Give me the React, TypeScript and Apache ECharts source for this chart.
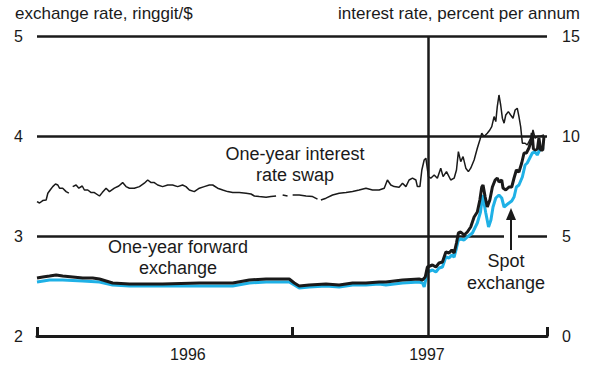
import React, { useEffect, useRef } from "react";
import * as echarts from "echarts";

// x values: months since January 1996
const swapMonths = [
  0.0, 0.12, 0.27, 0.43, 0.51, 0.62, 0.74, 0.87, 0.98, 1.06, 1.21, 1.37, 1.5, 1.59, 1.68, 1.84, 1.97, 2.13, 2.23, 2.39,
  2.55, 2.7, 2.94, 3.07, 3.25, 3.41, 3.64, 3.85, 4.03, 4.19, 4.35, 4.58, 4.82, 5.05, 5.21, 5.37, 5.52, 5.68, 5.91, 6.15,
  6.38, 6.62, 6.85, 7.01, 7.17, 7.4, 7.64, 7.87, 8.11, 8.27, 8.5, 8.74, 8.97, 9.21, 9.52, 9.84, 10.07, 10.23, 10.46, 10.78,
  11.01, 11.25, 11.4, 11.56, 11.79, 11.9, 12.03, 12.34, 12.66, 12.97, 13.2, 13.28, 13.36, 13.6, 13.91, 14.22, 14.54, 14.85,
  15.16, 15.48, 15.79, 16.1, 16.34, 16.49, 16.65, 16.81, 17.04, 17.2, 17.36, 17.51, 17.67, 17.83, 17.9, 18.02, 18.11,
  18.22, 18.3, 18.42, 18.53, 18.69, 18.84, 19.0, 19.11, 19.27, 19.47, 19.63, 19.74, 19.83, 19.94, 20.05, 20.18, 20.3,
  20.41, 20.57, 20.72, 20.84, 20.93, 21.04, 21.19, 21.31, 21.4, 21.51, 21.59, 21.66, 21.74, 21.82, 21.9, 21.98, 22.06,
  22.18, 22.29, 22.4, 22.5, 22.6, 22.68, 22.76, 22.84, 22.97, 23.07, 23.19, 23.28, 23.34, 23.44, 23.54, 23.7, 23.86,
];
const swapRate: (number | null)[] = [
  6.72, 6.65, 6.77, 6.8, 7.14, 7.3, 7.47, 7.6, 7.55, 7.39, 7.39, 7.22, 7.14, null, 7.47, 7.55, 7.39, 7.5, 7.3, 7.3,
  7.17, 7.17, 7.0, 7.17, 7.39, 7.22, 7.39, 7.5, 7.67, 7.47, 7.39, 7.39, 7.47, 7.64, 7.8, 7.67, 7.67, 7.55, 7.47, 7.55,
  7.55, 7.47, 7.55, 7.47, 7.3, 7.22, 7.39, 7.47, 7.55, 7.55, 7.39, 7.3, 7.22, 7.17, 7.17, 7.14, 7.1, 7.0, 6.97, 6.94,
  6.97, 7.0, null, 7.05, 7.0, null, 7.05, 7.05, 7.0, 6.97, 6.84, null, 6.8, 6.89, 7.05, 7.14, 7.17, 7.22,
  7.3, 7.39, 7.3, 7.3, 7.39, 7.8, 7.55, 7.47, 7.44, 7.64, 7.47, 7.8, 7.89, 7.8, 7.47, 7.47, 8.3,
  8.8, 8.89, 7.97, 7.89, 8.05, 7.89, 8.39, 7.97, 8.22, 7.8, 7.89, 8.3, 9.22, 8.72, 8.97, 8.39, 8.22,
  8.39, 8.8, 9.39, 9.8, 10.14, 9.97, 10.14, 10.3, 10.47, 10.97, 10.72, 11.47, 12.05, 11.55, 10.89, 10.64, 11.05,
  11.22, 11.05, 10.89, 11.3, 11.39, 10.97, 10.47, 9.64, 9.64, 9.55, 9.8, 9.97, 10.3, 9.89, 9.97, 10.0, 10.05,
];

const forwardMonths = [
  0.0, 0.27, 0.59, 0.9, 1.21, 1.68, 2.15, 2.62, 2.94, 3.25, 3.56, 4.35, 5.91, 7.64, 9.21, 9.99, 10.78, 11.87, 12.11,
  12.34, 12.81, 13.6, 14.22, 14.85, 15.48, 16.1, 16.42, 17.2, 17.98, 18.14, 18.27, 18.37, 18.61, 18.77, 18.92, 19.08,
  19.24, 19.39, 19.52, 19.63, 19.74, 19.83, 19.94, 20.1, 20.25, 20.41, 20.57, 20.72, 20.84, 20.93, 20.99, 21.09, 21.19,
  21.31, 21.43, 21.56, 21.66, 21.74, 21.87, 21.93, 22.06, 22.21, 22.34, 22.45, 22.56, 22.68, 22.81, 22.92, 23.03,
  23.15, 23.25, 23.3, 23.36, 23.45, 23.55, 23.62, 23.7, 23.8, 23.86,
];
const forwardRate = [
  2.58, 2.59, 2.6, 2.61, 2.6, 2.59, 2.58, 2.58, 2.57, 2.55, 2.53, 2.52, 2.52, 2.53, 2.53, 2.56, 2.57, 2.57, 2.53,
  2.5, 2.51, 2.52, 2.51, 2.53, 2.53, 2.54, 2.54, 2.56, 2.57, 2.56, 2.59, 2.69, 2.71, 2.69, 2.73, 2.74,
  2.84, 2.83, 2.86, 2.83, 2.93, 3.03, 3.04, 3.01, 3.04, 3.09, 3.19, 3.24, 3.36, 3.49, 3.51, 3.39, 3.29,
  3.36, 3.49, 3.56, 3.58, 3.54, 3.56, 3.48, 3.46, 3.49, 3.49, 3.58, 3.66, 3.64, 3.73, 3.83, 3.83,
  3.88, 3.95, 4.03, 3.87, 3.86, 3.87, 3.98, 3.86, 3.86, 4.0,
];

const spotMonths = [
  0.0, 0.59, 1.21, 2.15, 2.94, 3.56, 4.35, 5.91, 7.64, 9.21, 9.99, 10.78, 11.87, 12.11, 12.34, 12.81, 13.6, 14.22,
  14.85, 15.48, 16.1, 16.42, 17.2, 17.98, 18.14, 18.22, 18.37, 18.61, 18.77, 18.92, 19.08, 19.24, 19.39, 19.52, 19.63,
  19.74, 19.83, 19.94, 20.1, 20.25, 20.49, 20.72, 20.87, 20.97, 21.12, 21.25, 21.36, 21.46, 21.59, 21.74, 21.87, 21.98,
  22.09, 22.21, 22.34, 22.45, 22.56, 22.68, 22.84, 22.97, 23.07, 23.19, 23.31, 23.44, 23.54, 23.7, 23.86,
];
const spotRate = [
  2.54, 2.56, 2.56, 2.55, 2.54, 2.51, 2.5, 2.5, 2.5, 2.5, 2.53, 2.54, 2.54, 2.51, 2.48, 2.49, 2.5, 2.49,
  2.51, 2.51, 2.52, 2.51, 2.53, 2.54, 2.53, 2.49, 2.64, 2.66, 2.64, 2.68, 2.69, 2.79, 2.78, 2.81, 2.79,
  2.88, 2.96, 2.97, 2.96, 2.99, 3.03, 3.13, 3.24, 3.41, 3.23, 3.09, 3.16, 3.29, 3.38, 3.41, 3.38, 3.29,
  3.31, 3.33, 3.35, 3.39, 3.49, 3.51, 3.59, 3.71, 3.73, 3.78, 3.83, 3.84, 3.81, 3.88, 3.89,
];

const xTickMonths = [0, 12, 24];
const yearLabelMonths = [7.1, 18.35];
const yearLabels = ["1996", "1997"];
const floatMonth = 18.39;

const FONT = '"Liberation Sans", Arial, Helvetica, sans-serif';
const INK = "#1a1a1a";
const CYAN = "#1fb1e6";

const zip = (xs: number[], ys: (number | null)[]) => xs.map((x, i) => [x, ys[i]]);

export default function App() {
  const ref = useRef<HTMLDivElement>(null);
  useEffect(() => {
    const chart = echarts.init(ref.current!, null, { renderer: "svg" });
    chart.setOption({
      animation: false,
      backgroundColor: "#ffffff",
      grid: { left: 37, right: 53, top: 36, bottom: 33 },
      xAxis: {
        type: "value",
        min: 0,
        max: 24,
        axisLine: { show: true, onZero: false, lineStyle: { color: INK, width: 3 } },
        axisTick: { show: true, inside: true, length: 9, customValues: xTickMonths, lineStyle: { color: INK, width: 3 } },
        axisLabel: {
          show: true,
          customValues: yearLabelMonths,
          formatter: (v: number) => (v < 12 ? yearLabels[0] : yearLabels[1]),
          margin: 10,
          color: INK,
          fontSize: 16,
          fontFamily: FONT,
        },
        splitLine: { show: false },
      },
      yAxis: [
        {
          type: "value",
          min: 2,
          max: 5,
          interval: 1,
          position: "left",
          axisLine: { show: false },
          axisTick: { show: false },
          axisLabel: { margin: 14, color: INK, fontSize: 16, fontFamily: FONT },
          splitLine: { show: true, lineStyle: { color: INK, width: 2.5 } },
        },
        {
          type: "value",
          min: 0,
          max: 15,
          interval: 5,
          position: "right",
          axisLine: { show: false },
          axisTick: { show: false },
          axisLabel: { margin: 15, color: INK, fontSize: 16, fontFamily: FONT },
          splitLine: { show: false },
        },
      ],
      series: [
        {
          name: "Spot exchange",
          type: "line",
          yAxisIndex: 0,
          data: zip(spotMonths, spotRate),
          showSymbol: false,
          z: 2,
          lineStyle: { color: CYAN, width: 3 },
        },
        {
          name: "One-year forward exchange",
          type: "line",
          yAxisIndex: 0,
          data: zip(forwardMonths, forwardRate),
          showSymbol: false,
          z: 3,
          lineStyle: { color: INK, width: 3 },
        },
        {
          name: "One-year interest rate swap",
          type: "line",
          yAxisIndex: 1,
          data: zip(swapMonths, swapRate),
          showSymbol: false,
          connectNulls: false,
          z: 4,
          lineStyle: { color: INK, width: 1.5 },
          markLine: {
            silent: true,
            symbol: ["none", "none"],
            label: { show: false },
            lineStyle: { color: INK, width: 2.5, type: "solid" },
            data: [{ xAxis: floatMonth }],
          },
        },
      ],
      graphic: [
        {
          type: "text",
          left: 15,
          top: 5,
          style: { text: "exchange rate, ringgit/$", fontSize: 17, fontFamily: FONT, fill: INK },
        },
        {
          type: "text",
          right: 20,
          top: 5,
          style: { text: "interest rate, percent per annum", fontSize: 17, fontFamily: FONT, fill: INK },
        },
        {
          type: "text",
          x: 295,
          y: 154,
          style: { text: "One-year interest", fontSize: 18, fontFamily: FONT, fill: INK, align: "center", verticalAlign: "middle" },
        },
        {
          type: "text",
          x: 295,
          y: 175,
          style: { text: "rate swap", fontSize: 18, fontFamily: FONT, fill: INK, align: "center", verticalAlign: "middle" },
        },
        {
          type: "text",
          x: 178,
          y: 247,
          style: { text: "One-year forward", fontSize: 18, fontFamily: FONT, fill: INK, align: "center", verticalAlign: "middle" },
        },
        {
          type: "text",
          x: 178,
          y: 268,
          style: { text: "exchange", fontSize: 18, fontFamily: FONT, fill: INK, align: "center", verticalAlign: "middle" },
        },
        {
          type: "text",
          x: 506,
          y: 261,
          style: { text: "Spot", fontSize: 18, fontFamily: FONT, fill: INK, align: "center", verticalAlign: "middle" },
        },
        {
          type: "text",
          x: 506,
          y: 283,
          style: { text: "exchange", fontSize: 18, fontFamily: FONT, fill: INK, align: "center", verticalAlign: "middle" },
        },
        {
          type: "rect",
          shape: { x: 504, y: 232, width: 14, height: 8 },
          style: { fill: "#ffffff" },
          z: 10,
        },
        {
          type: "line",
          shape: { x1: 511, y1: 250, x2: 511, y2: 218 },
          style: { stroke: INK, lineWidth: 2 },
          z: 11,
        },
        {
          type: "polygon",
          shape: { points: [[511, 208], [506, 220], [516, 220]] },
          style: { fill: INK },
          z: 11,
        },
      ],
    });
    return () => chart.dispose();
  }, []);
  return <div ref={ref} style={{ position: "fixed", left: 0, top: 0, width: 600, height: 369 }} />;
}
